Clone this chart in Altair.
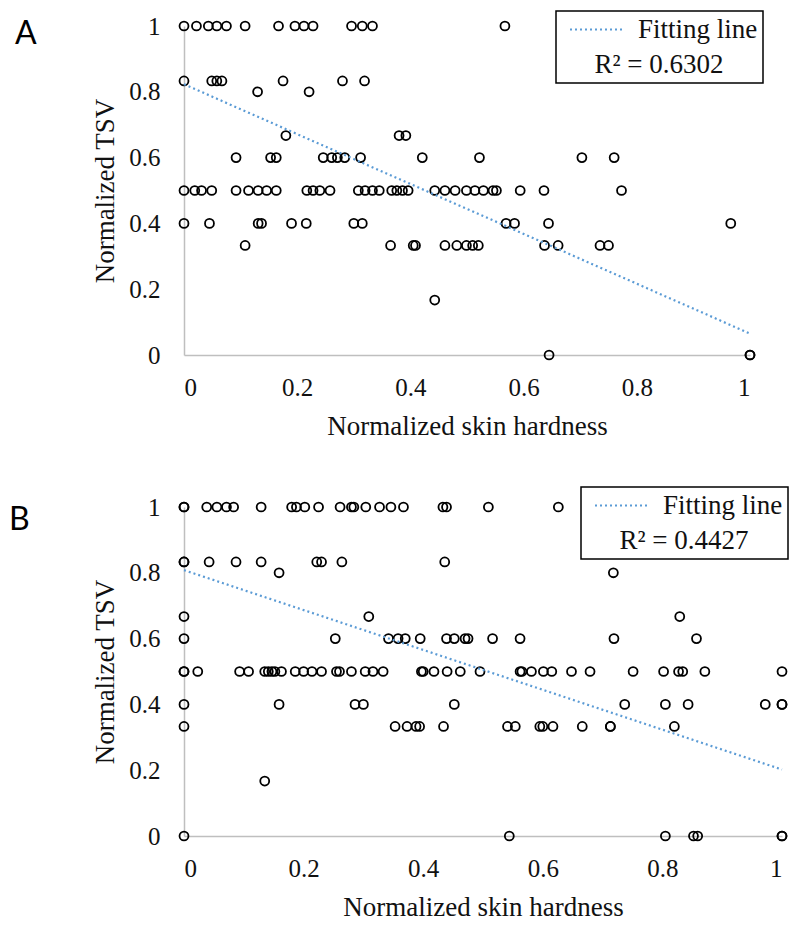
import altair as alt
import pandas as pd

# TSV levels (rows of points) shared by both panels
TSV_LEVELS = [1.0, 0.833, 0.8, 0.667, 0.6, 0.5, 0.4, 0.333, 0.167, 0.0]

# Panel A: normalized skin hardness for each TSV level
A_HARDNESS = [
    [0, 0.022, 0.043, 0.058, 0.075, 0.108, 0.167, 0.196, 0.212, 0.228, 0.296, 0.315, 0.333, 0.567],
    [0, 0.049, 0.058, 0.067, 0.175, 0.280, 0.319],
    [0.130, 0.221],
    [0.180, 0.380, 0.392],
    [0.092, 0.153, 0.163, 0.246, 0.261, 0.271, 0.284, 0.312, 0.421, 0.522, 0.703, 0.760],
    [0, 0.019, 0.031, 0.049, 0.092, 0.114, 0.131, 0.146, 0.163, 0.217, 0.228, 0.240, 0.258,
     0.308, 0.320, 0.333, 0.345, 0.367, 0.376, 0.386, 0.396, 0.443, 0.461, 0.479, 0.499,
     0.514, 0.529, 0.546, 0.552, 0.594, 0.636, 0.773],
    [0, 0.045, 0.131, 0.137, 0.190, 0.216, 0.300, 0.315, 0.569, 0.584, 0.644, 0.966],
    [0.108, 0.365, 0.405, 0.409, 0.461, 0.482, 0.499, 0.510, 0.520, 0.637, 0.661, 0.735, 0.750],
    [0.443],
    [0.645, 1.0, 1.0],
]

# Panel B
B_HARDNESS = [
    [0, 0, 0.038, 0.055, 0.071, 0.083, 0.129, 0.180, 0.188, 0.202, 0.225, 0.261, 0.280, 0.284,
     0.304, 0.327, 0.346, 0.367, 0.433, 0.439, 0.509, 0.626],
    [0, 0, 0.042, 0.087, 0.129, 0.222, 0.230, 0.264, 0.436],
    [0.159, 0.718],
    [0, 0.309, 0.829],
    [0, 0.253, 0.342, 0.358, 0.370, 0.395, 0.439, 0.452, 0.470, 0.475, 0.516, 0.562, 0.719, 0.857],
    [0, 0, 0.023, 0.093, 0.108, 0.135, 0.141, 0.147, 0.152, 0.163, 0.186, 0.200, 0.214, 0.230,
     0.255, 0.260, 0.280, 0.303, 0.316, 0.333, 0.397, 0.400, 0.418, 0.440, 0.462, 0.495,
     0.562, 0.565, 0.581, 0.601, 0.615, 0.648, 0.679, 0.751, 0.802, 0.827, 0.834, 0.871, 1.0],
    [0, 0.159, 0.286, 0.300, 0.452, 0.737, 0.805, 0.843, 0.972, 1.0, 1.0],
    [0, 0.353, 0.373, 0.388, 0.394, 0.434, 0.541, 0.554, 0.595, 0.600, 0.617, 0.666, 0.713,
     0.713, 0.820],
    [0.135],
    [0, 0.544, 0.805, 0.852, 0.859, 1.0, 1.0],
]

# Fitting lines (value at hardness 0 and 1)
FIT_X = [0, 1]
A_FIT_Y = [0.823, 0.065]
B_FIT_Y = [0.808, 0.202]
A_R2 = "R\u00b2 = 0.6302"
B_R2 = "R\u00b2 = 0.4427"

X_TICKS = [0, 0.2, 0.4, 0.6, 0.8, 1]
Y_TICKS = [0, 0.2, 0.4, 0.6, 0.8, 1]

SERIF = "Liberation Serif"
LINE_COLOR = "#5b9bd5"


def panel(hardness_rows, fit_y, r2, letter, width, height, legend_x, legend_y,
          letter_x, letter_y):
    xs, ys = [], []
    for level, row in zip(TSV_LEVELS, hardness_rows):
        xs.extend(row)
        ys.extend([level] * len(row))
    pts = pd.DataFrame({"hardness": xs, "tsv": ys})
    fit = pd.DataFrame({"hardness": FIT_X, "tsv": fit_y, "series": ["Fitting line"] * 2})

    xenc = alt.X("hardness:Q", scale=alt.Scale(domain=[0, 1], nice=False),
                 axis=alt.Axis(values=X_TICKS, format=".1~f", title="Normalized skin hardness"))
    yenc = alt.Y("tsv:Q", scale=alt.Scale(domain=[0, 1], nice=False),
                 axis=alt.Axis(values=Y_TICKS, format=".1~f", title="Normalized TSV"))

    points = alt.Chart(pts).mark_point(
        shape="circle", filled=False, size=80, color="black", strokeWidth=1.8, opacity=1
    ).encode(x=xenc, y=yenc)

    line = alt.Chart(fit).mark_line(
        strokeDash=[2, 3], strokeWidth=2.2
    ).encode(
        x="hardness:Q", y="tsv:Q",
        color=alt.Color("series:N",
                        scale=alt.Scale(domain=["Fitting line"], range=[LINE_COLOR]),
                        legend=alt.Legend(title=r2, legendX=legend_x, legendY=legend_y)),
    )

    label = alt.Chart(pd.DataFrame({"letter": [letter]})).mark_text(
        font="Lato", fontSize=32, align="left", baseline="alphabetic", color="black"
    ).encode(x=alt.value(letter_x), y=alt.value(letter_y), text="letter:N")

    return alt.layer(points, line, label).properties(width=width, height=height)


chart_a = panel(A_HARDNESS, A_FIT_Y, A_R2, "A", 566, 329, 372, -15, -169, 18)
chart_b = panel(B_HARDNESS, B_FIT_Y, B_R2, "B", 598, 329, 397, -20, -175, 23)

chart = alt.vconcat(chart_a, chart_b, spacing=47).resolve_scale(
    color="independent"
).resolve_legend(
    color="independent"
).properties(
    padding={"left": 1, "top": 2, "right": 0, "bottom": 0}
).configure_view(
    stroke=None
).configure_axis(
    domainColor="#bfbfbf", domainWidth=1.5, ticks=False, grid=False,
    labelFont=SERIF, labelFontSize=25, labelColor="#111111",
    titleFont=SERIF, titleFontSize=27, titleFontWeight="normal", titleColor="#111111",
).configure_axisX(
    labelPadding=20, titlePadding=13
).configure_axisY(
    labelPadding=24, titlePadding=9
).configure_legend(
    orient="none", strokeColor="black", strokeWidth=1.5, padding=5,
    labelFont=SERIF, labelFontSize=27, labelColor="#111111", labelOffset=27,
    titleFont=SERIF, titleFontSize=27, titleFontWeight="normal", titleColor="#111111",
    titleOrient="bottom", titleAnchor="middle", titlePadding=9,
    symbolType="M-2.75,0H2.75", symbolStrokeWidth=2.2, symbolDash=[2, 3], symbolSize=400,
    symbolOffset=23,
)

chart.save("out.html", embed_options={"renderer": "svg", "actions": False})
